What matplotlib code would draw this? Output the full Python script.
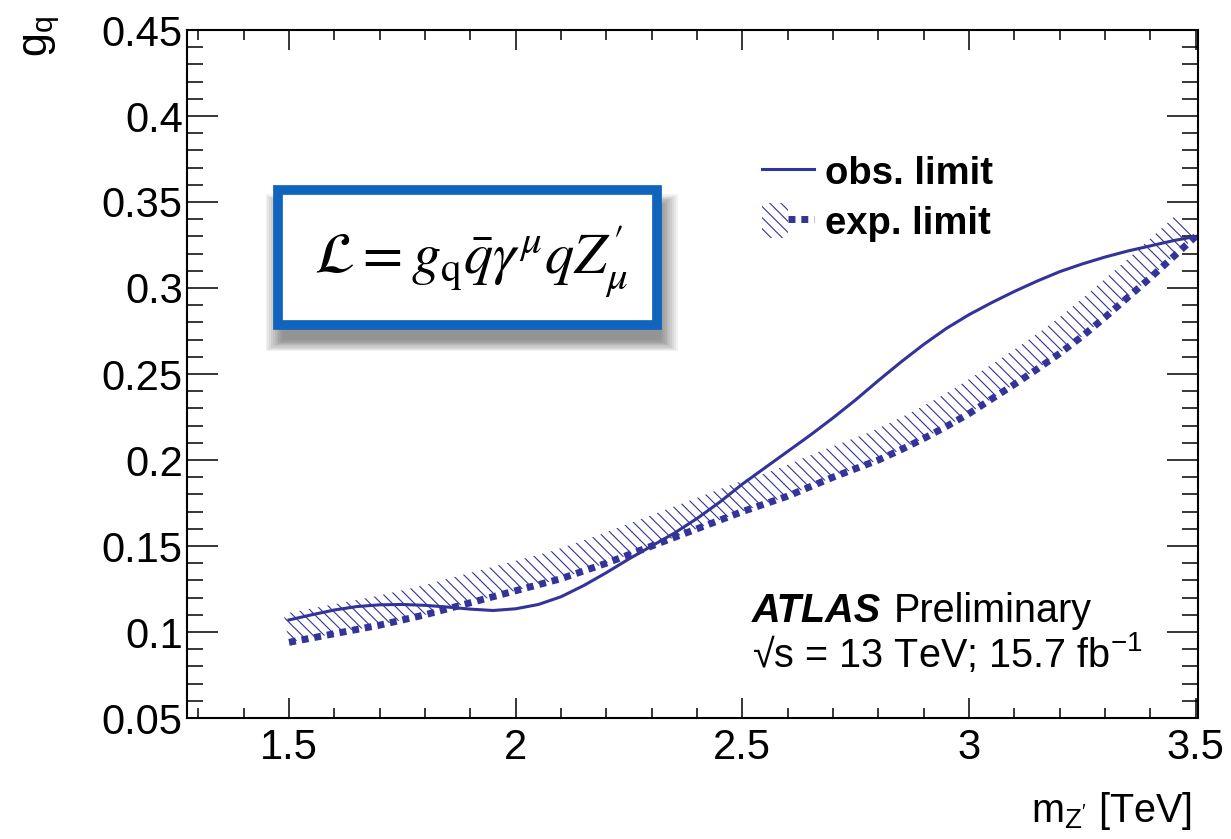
import numpy as np
import matplotlib
matplotlib.use('Agg')
import matplotlib.pyplot as plt
from matplotlib.ticker import MultipleLocator, FuncFormatter
from matplotlib.patches import Polygon, Patch, Rectangle
from matplotlib.lines import Line2D
from matplotlib.legend_handler import HandlerTuple

plt.rcParams['font.family'] = ['Liberation Sans', 'DejaVu Sans']
plt.rcParams['mathtext.fontset'] = 'custom'
plt.rcParams['mathtext.rm'] = 'Liberation Sans'
plt.rcParams['mathtext.it'] = 'Liberation Sans:italic'
plt.rcParams['mathtext.bf'] = 'Liberation Sans:bold'
plt.rcParams['hatch.linewidth'] = 0.8

# Z' mass [TeV] and coupling limits
mass_obs = [1.5, 1.55, 1.6, 1.65, 1.7, 1.75, 1.8, 1.85, 1.9, 1.95, 2.0,
            2.05, 2.1, 2.15, 2.2, 2.25, 2.3, 2.35, 2.4, 2.45, 2.5,
            2.55, 2.6, 2.65, 2.7, 2.75, 2.8, 2.85, 2.9, 2.95, 3.0,
            3.05, 3.1, 3.15, 3.2, 3.25, 3.3, 3.35, 3.4, 3.45, 3.5]
obs_limit = [0.107, 0.110, 0.1128, 0.1148, 0.1158, 0.116, 0.1155, 0.1145, 0.1133, 0.1125, 0.1135,
             0.116, 0.1205, 0.127, 0.1345, 0.1425, 0.150, 0.1575, 0.166, 0.1755, 0.186,
             0.1955, 0.205, 0.2145, 0.2245, 0.235, 0.2462, 0.257, 0.2672, 0.2765, 0.2845,
             0.2915, 0.298, 0.304, 0.3095, 0.314, 0.318, 0.3215, 0.3245, 0.3275, 0.330]
mass_exp = [1.5, 1.55, 1.6, 1.65, 1.7, 1.75, 1.8, 1.85, 1.9, 1.95, 2.0,
            2.05, 2.1, 2.15, 2.2, 2.25, 2.3, 2.35, 2.4, 2.45, 2.5,
            2.55, 2.6, 2.65, 2.7, 2.75, 2.8, 2.85, 2.9, 2.95, 3.0,
            3.05, 3.1, 3.15, 3.2, 3.25, 3.3, 3.35, 3.4, 3.45, 3.5]
exp_limit = [0.094, 0.0965, 0.099, 0.1015, 0.104, 0.107, 0.110, 0.1135, 0.117, 0.1205, 0.124,
             0.1275, 0.131, 0.1355, 0.140, 0.145, 0.150, 0.155, 0.160, 0.165, 0.170,
             0.1745, 0.179, 0.1845, 0.190, 0.195, 0.200, 0.206, 0.2125, 0.2195, 0.227,
             0.2355, 0.2440, 0.2528, 0.262, 0.272, 0.283, 0.2945, 0.306, 0.318, 0.330]

col = '#333399'
fs_tick = 30
fs = 28.5

fig = plt.figure(figsize=(12.31, 8.39), dpi=100)
ax = fig.add_axes([187 / 1231, 121 / 839, 1011 / 1231, 688 / 839])
ax.set_xlim(1.275, 3.505)
ax.set_ylim(0.05, 0.45)

# ROOT-like ticks on all sides
ax.xaxis.set_major_locator(MultipleLocator(0.5))
ax.xaxis.set_minor_locator(MultipleLocator(0.1))
ax.yaxis.set_major_locator(MultipleLocator(0.05))
ax.yaxis.set_minor_locator(MultipleLocator(0.01))
fmt = FuncFormatter(lambda v, p: '%g' % round(v, 3))
ax.xaxis.set_major_formatter(fmt)
ax.yaxis.set_major_formatter(fmt)
ax.tick_params(which='both', direction='in', top=True, right=True, width=1.1, labelsize=fs_tick)
ax.tick_params(axis='x', which='major', length=14.5, pad=7)
ax.tick_params(axis='x', which='minor', length=7.2)
ax.tick_params(axis='y', which='major', length=22, pad=3)
ax.tick_params(axis='y', which='minor', length=11.5)
for s in ax.spines.values():
    s.set_linewidth(1.5)

# hatched band above expected limit (offset perpendicular in pixel space)
pts = ax.transData.transform(np.column_stack([mass_exp, exp_limit]))
tang = np.gradient(pts, axis=0)
tang /= np.hypot(tang[:, 0], tang[:, 1])[:, None]
norm = np.column_stack([-tang[:, 1], tang[:, 0]])
band = np.vstack([pts, (pts + norm * 29)[::-1]])
band = ax.transData.inverted().transform(band)
ax.add_patch(Polygon(band, closed=True, facecolor='none', edgecolor=col,
                     linewidth=0, hatch='\\\\\\'))

exp_style = dict(color=col, lw=5, linestyle=(0, (1, 0.85)), dash_capstyle='butt')
ax.plot(mass_exp, exp_limit, **exp_style)
obs_line, = ax.plot(mass_obs, obs_limit, color=col, lw=2.2)

hatch_proxy = Patch(facecolor='none', edgecolor=col, linewidth=0, hatch='\\\\\\')
exp_proxy = Line2D([], [], **exp_style)
ax.legend([obs_line, (hatch_proxy, exp_proxy)], ['obs. limit', 'exp. limit'],
          handler_map={tuple: HandlerTuple(ndivide=None)},
          loc='upper left', bbox_to_anchor=(0.569, 0.82), frameon=False,
          prop={'weight': 'bold', 'size': fs - 1}, handlelength=1.35, handleheight=1.0,
          handletextpad=0.3, labelspacing=0.3, borderpad=0, borderaxespad=0)

# Lagrangian box with drop shadow
bx, by, bw, bh = 0.090, 0.571, 0.375, 0.196
for i in range(10):
    d = 0.0018 * i
    ax.add_patch(Rectangle((bx - d + 0.004, by - d - 0.022), bw + 2 * d, bh + 2 * d,
                           transform=ax.transAxes, facecolor='black', edgecolor='none',
                           alpha=0.05, clip_on=False, zorder=4))
ax.add_patch(Rectangle((bx, by), bw, bh, transform=ax.transAxes, facecolor='white',
                       edgecolor='#1064be', linewidth=7, clip_on=False, zorder=5))
ax.text(bx + bw / 2 + 0.003, by + bh / 2 - 0.005,
        r"$\mathcal{L} = g_{\mathrm{q}}\bar{q}\gamma^{\mu}qZ^{\prime}_{\mu}$",
        transform=ax.transAxes, ha='center', va='center', fontsize=42,
        math_fontfamily='stix', zorder=6)

# ATLAS label
atl = ax.text(0.559, 0.1395, 'ATLAS', transform=ax.transAxes, fontsize=fs,
              fontweight='bold', fontstyle='italic', va='baseline')
r = fig.canvas.get_renderer()
ext = atl.get_window_extent(r)
x_pre = ax.transAxes.inverted().transform((ext.x1 + 12, 0))[0]
ax.text(x_pre, 0.1395, 'Preliminary', transform=ax.transAxes, fontsize=fs, va='baseline')
ax.text(0.559, 0.074, '\u221As = 13 TeV; 15.7 fb$^{-1}$', transform=ax.transAxes,
        fontsize=fs, va='baseline')

fig.text(1192 / 1231, 17 / 839, r"m$_{\mathrm{Z'}}$ [TeV]", fontsize=fs,
         ha='right', va='baseline')
fig.text(42 / 1231, 1 - 16 / 839, r'g$_{\mathrm{q}}$', fontsize=31, rotation=90,
         ha='center', va='top')

fig.savefig('out.png', dpi=100)
